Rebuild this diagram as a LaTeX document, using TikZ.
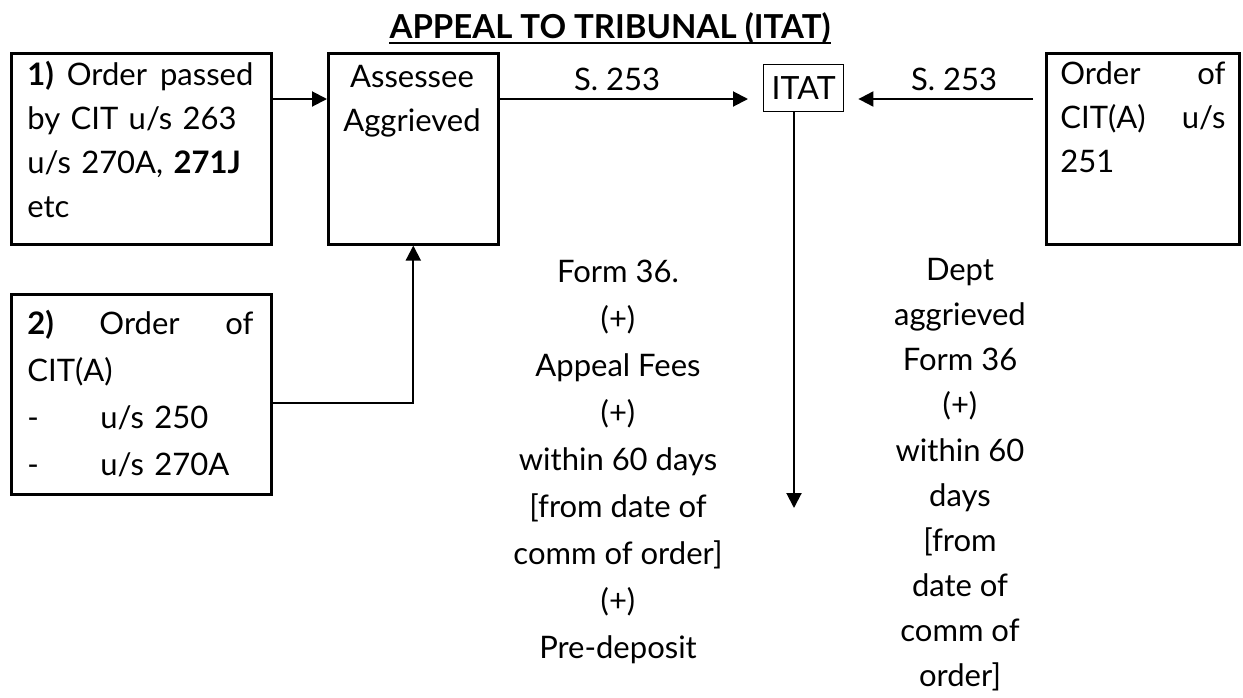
\documentclass[tikz,border=0pt]{standalone}
\usepackage{fontspec}
\setmainfont{Lato}
\usetikzlibrary{arrows.meta,calc}
\newcommand\jlinebox[2]{\leavevmode\hbox to #1{#2}}
\begin{document}
\begin{tikzpicture}[x=0.5pt,y=-0.5pt,
  box/.style={draw,line width=1.3pt,anchor=north west,inner sep=0pt},
  txt/.style={inner sep=0pt,font=\fontsize{15.5}{22}\selectfont},
  arr/.style={line width=1pt,-{Triangle[length=7.5pt,width=7.5pt]}},
]
\useasboundingbox (0,0) rectangle (1243,697);
% title
\node[inner sep=0pt,anchor=base,font=\bfseries\fontsize{16.5}{20}\selectfont] (title) at (610,38) {APPEAL TO TRIBUNAL (ITAT)};
\draw[line width=1pt] ([yshift=-2.6pt]title.base west) -- ([yshift=-2.6pt]title.base east);
% boxes
\node[box,minimum width=130pt,minimum height=95.5pt] (b1) at (10,52) {};
\node[box,minimum width=85pt,minimum height=95.5pt] (ass) at (327,52) {};
\node[box,minimum width=96.5pt,minimum height=95.5pt] (rb) at (1045,52) {};
\node[box,minimum width=130pt,minimum height=100pt] (b2) at (10,293) {};
\node[draw,line width=0.7pt,anchor=north west,minimum width=40pt,minimum height=23.5pt,inner sep=0pt,font=\fontsize{16}{20}\selectfont] (itat) at (763,64) {ITAT};
% box texts
\node[txt,anchor=north west,text width=113pt,align=left] (t1) at (27,61)
 {\jlinebox{113pt}{\textbf{1)}\hfill Order\hfill passed}\\ by CIT u/s 263\\ u/s 270A, \textbf{271J}\\ etc};
\node[txt,anchor=north,align=center] (tass) at (412,65) {Assessee\\ Aggrieved};
\node[txt,anchor=north west,text width=82.5pt,align=left] (trb) at (1060,61)
 {\jlinebox{82.5pt}{Order\hfill of}\\ \jlinebox{82.5pt}{CIT(A)\hfill u/s}\\ 251};
\node[txt,anchor=north west,text width=113pt,align=left,font=\fontsize{15.5}{23.5}\selectfont] (t2) at (27,310)
 {\jlinebox{113pt}{\textbf{2)}\hfill Order\hfill of}\\ CIT(A)\\ \makebox[36.5pt][l]{-}u/s 250\\ \makebox[36.5pt][l]{-}u/s 270A};
% columns
\node[txt,anchor=north,align=center,font=\fontsize{15.5}{23.5}\selectfont] (colL) at (618,260)
 {Form 36.\\ (+)\\ Appeal Fees\\ (+)\\ within 60 days\\ {[}from date of\\ comm of order{]}\\ (+)\\ Pre-deposit};
\node[txt,anchor=north,align=center,font=\fontsize{15.5}{22.55}\selectfont] (colR) at (960,258)
 {Dept\\ aggrieved\\ Form 36\\ (+)\\ within 60\\ days\\ {[}from\\ date of\\ comm of\\ order{]}};
% labels
\node[txt,anchor=base] (s1) at (617,90) {S. 253};
\node[txt,anchor=base] (s2) at (954,90) {S. 253};
% connectors
\coordinate (row) at (0,99);
\coordinate (r2) at (0,403);
\coordinate (dn) at (794,508);
\draw[arr] (b1.east |- row) -- (ass.west |- row);
\draw[arr,shorten >=7.5pt] (ass.east |- row) -- (itat.west |- row);
\draw[arr,shorten >=7pt,shorten <=6pt] (rb.west |- row) -- (itat.east |- row);
\draw[arr] (itat.south -| dn) -- (dn);
\draw[arr] (b2.east |- r2) -| (ass.south);
\end{tikzpicture}
\end{document}
